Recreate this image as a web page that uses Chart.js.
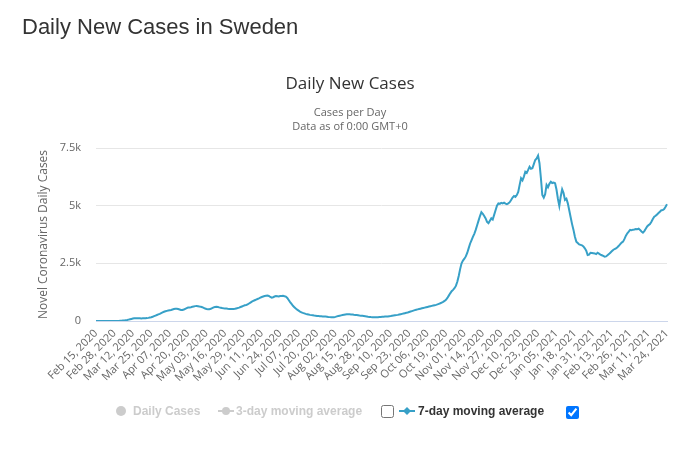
<!DOCTYPE html>
<html><head><meta charset="utf-8">
<script src="https://cdn.jsdelivr.net/npm/chart.js@4.4.0/dist/chart.umd.min.js"></script>
<style>
html,body{margin:0;padding:0;background:#fff;}
#wrap{position:relative;width:700px;height:461px;overflow:hidden;font-family:'Open Sans',sans-serif;}
#c{position:absolute;left:0;top:0;}
.t{position:absolute;white-space:nowrap;}
.lg{position:absolute;white-space:nowrap;font-family:'Liberation Sans',Arial,sans-serif;font-weight:bold;font-size:12px;line-height:14px;}
.cb{position:absolute;margin:0;width:13px;height:13px;}
svg{position:absolute;}
</style></head><body>
<div id="wrap">
<canvas id="c" width="700" height="461"></canvas>
<div class="t" style="left:22px;top:16px;font-family:'Liberation Sans',Arial,sans-serif;font-size:22px;line-height:22px;color:#333;">Daily New Cases in Sweden</div>
<div class="t" style="left:0;width:700px;text-align:center;top:74px;font-size:17px;line-height:17px;color:#333;">Daily New Cases</div>
<div class="t" style="left:0;width:700px;text-align:center;top:106px;font-size:11px;line-height:12px;color:#666;">Cases per Day</div>
<div class="t" style="left:0;width:700px;text-align:center;top:120px;font-size:11px;line-height:12px;color:#666;">Data as of 0:00 GMT+0</div>

<svg style="left:115px;top:405px" width="12" height="12"><circle cx="6" cy="6" r="5" fill="#cccccc"/></svg>
<div class="lg" style="left:133px;top:404px;color:#cccccc;">Daily Cases</div>
<svg style="left:218px;top:405px" width="16" height="12"><line x1="0" y1="6" x2="16" y2="6" stroke="#cccccc" stroke-width="2"/><circle cx="8" cy="6" r="4" fill="#cccccc"/></svg>
<div class="lg" style="left:236px;top:404px;color:#cccccc;">3-day moving average</div>
<input class="cb" type="checkbox" style="left:381px;top:405px;">
<svg style="left:399px;top:405px" width="16" height="12"><line x1="0" y1="6" x2="16" y2="6" stroke="#37a0c7" stroke-width="2"/><path d="M8 2 L12 6 L8 10 L4 6 Z" fill="#37a0c7"/></svg>
<div class="lg" style="left:418px;top:404px;color:#333;">7-day moving average</div>
<input class="cb" type="checkbox" checked style="left:566px;top:406px;">
</div>
<script>
// 7-day moving average of daily new cases (one value per day)
const feb2020 = [0,0,0,0,0,0,0,0,0,0,0,1,1,2,2];
const mar2020 = [3,5,8,12,18,25,35,45,60,75,90,105,115,120,122,118,115,112,115,118,122,125,135,150,165,185,210,235,260,285,310];
const apr2020 = [340,370,400,420,440,455,470,480,500,520,530,535,520,500,480,475,500,530,560,585,590,600,615,630,645,650,640,625,615,600];
const may2020 = [570,540,520,510,505,530,560,590,610,620,610,590,575,560,550,545,540,530,525,520,518,520,530,545,560,580,605,630,655,680,695];
const jun2020 = [720,760,800,840,870,900,930,955,980,1010,1040,1060,1080,1090,1100,1085,1040,1010,1030,1060,1080,1070,1060,1080,1085,1090,1075,1060,1000,910];
const jul2020 = [820,740,660,600,540,490,450,410,375,350,330,310,295,280,265,255,245,235,228,220,215,210,205,200,195,190,185,175,168,162,160];
const aug2020 = [165,180,200,215,230,245,260,270,280,290,295,290,285,280,270,265,258,250,240,232,225,215,205,195,185,178,170,165,162,160,162];
const sep2020 = [165,170,175,180,185,190,195,200,208,215,225,235,245,255,265,280,295,310,325,340,355,370,390,410,430,450,470,490,505,520];
const oct2020 = [535,550,565,580,595,610,625,640,655,670,685,700,720,745,770,800,830,870,920,1000,1100,1200,1290,1350,1420,1520,1700,1950,2250,2500,2620];
const nov2020 = [2700,2800,2950,3150,3350,3500,3650,3780,3950,4150,4350,4550,4720,4650,4550,4450,4300,4240,4350,4450,4400,4600,4800,5000,5100,5080,5120,5100,5130,5090];
const dec2020 = [5070,5100,5150,5250,5350,5420,5380,5460,5600,5900,6190,6100,6260,6470,6420,6550,6690,6600,6620,6800,6980,7050,7170,6840,6200,5460,5350,5500,5900,5800,5950];
const jan2021 = [6040,5980,6000,5970,5700,5300,4990,5400,5710,5550,5250,5300,5100,4800,4500,4200,3950,3650,3440,3380,3320,3300,3280,3230,3150,3050,2860,2880,2960,2950,2940];
const feb2021 = [2930,2900,2960,2920,2880,2850,2820,2790,2800,2850,2900,2960,3020,3080,3120,3150,3200,3260,3330,3400,3440,3560,3700,3800,3870,3950,3940,3960];
const mar2021 = [3970,3990,3980,4000,3950,3880,3830,3900,4000,4100,4160,4200,4300,4420,4520,4560,4620,4680,4740,4800,4810,4850,4950,5060];

const movingAvg7 = [].concat(feb2020,mar2020,apr2020,may2020,jun2020,jul2020,aug2020,sep2020,oct2020,nov2020,dec2020,jan2021,feb2021,mar2021);

const tickLabels = ['Feb 15, 2020','Feb 28, 2020','Mar 12, 2020','Mar 25, 2020','Apr 07, 2020','Apr 20, 2020','May 03, 2020','May 16, 2020','May 29, 2020','Jun 11, 2020','Jun 24, 2020','Jul 07, 2020','Jul 20, 2020','Aug 02, 2020','Aug 15, 2020','Aug 28, 2020','Sep 10, 2020','Sep 23, 2020','Oct 06, 2020','Oct 19, 2020','Nov 01, 2020','Nov 14, 2020','Nov 27, 2020','Dec 10, 2020','Dec 23, 2020','Jan 05, 2021','Jan 18, 2021','Jan 31, 2021','Feb 13, 2021','Feb 26, 2021','Mar 11, 2021','Mar 24, 2021'];
const tickEvery = 13;
const yTickValues = [0,2500,5000,7500];
const yTickLabels = ['0','2.5k','5k','7.5k'];

const MONTHS = ['Jan','Feb','Mar','Apr','May','Jun','Jul','Aug','Sep','Oct','Nov','Dec'];
const start = Date.UTC(2020,1,15);
const categories = movingAvg7.map((_, i) => {
  const d = new Date(start + i*86400000);
  return MONTHS[d.getUTCMonth()] + ' ' + String(d.getUTCDate()).padStart(2,'0') + ', ' + d.getUTCFullYear();
});

new Chart(document.getElementById('c'), {
  type: 'line',
  data: {
    labels: categories,
    datasets: [{
      label: '7-day moving average',
      data: movingAvg7,
      borderColor: '#37a0c7',
      borderWidth: 2,
      pointRadius: 0,
      tension: 0,
      fill: false
    }]
  },
  options: {
    responsive: false,
    animation: false,
    devicePixelRatio: 1,
    layout: { padding: { left: 36, right: 33, top: 148, bottom: 40 } },
    plugins: { legend: { display: false }, tooltip: { enabled: false }, title: { display: false } },
    scales: {
      x: {
        type: 'category',
        offset: false,
        grid: { display: false, drawTicks: false },
        border: { display: true, color: '#ccd6eb', width: 1 },
        ticks: {
          autoSkip: false, maxRotation: 45, minRotation: 45, padding: 6,
          color: '#666', font: { family: 'Open Sans', size: 11 },
          callback: function(v, i) { return i % tickEvery === 0 ? tickLabels[i / tickEvery] : null; }
        },
        afterFit: function(s) { s.height = 100; }
      },
      y: {
        min: 0, max: 7500,
        afterBuildTicks: function(s) { s.ticks = yTickValues.map(v => ({ value: v })); },
        ticks: {
          padding: 15, color: '#666', font: { family: 'Open Sans', size: 11 },
          callback: function(v) { const k = yTickValues.indexOf(v); return k >= 0 ? yTickLabels[k] : ''; }
        },
        grid: { color: '#e6e6e6', drawTicks: false },
        border: { display: false },
        title: { display: true, text: 'Novel Coronavirus Daily Cases', color: '#666', font: { family: 'Open Sans', size: 12 }, padding: { top: 0, bottom: 0 } },
        afterFit: function(s) { s.width = 60; }
      }
    }
  }
});
</script>
</body></html>
